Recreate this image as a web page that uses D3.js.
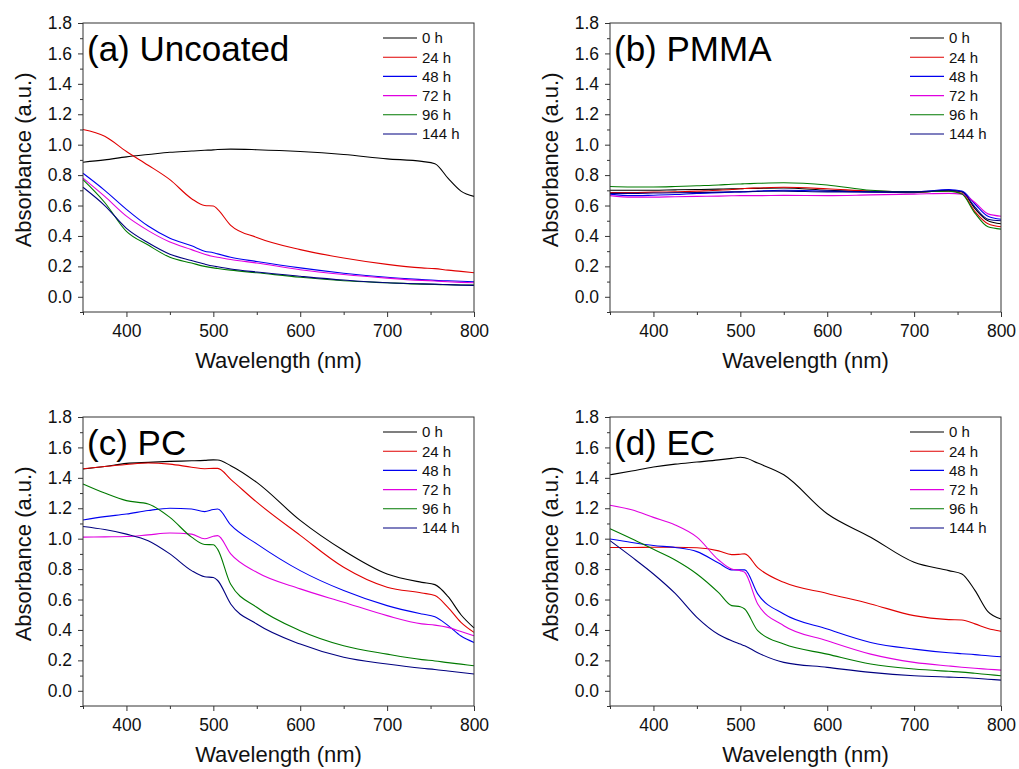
<!DOCTYPE html>
<html>
<head>
<meta charset="utf-8">
<script src="https://cdn.jsdelivr.net/npm/d3@7/dist/d3.min.js"></script>
<style>
  body { margin: 0; background: #fff; }
  svg { font-family: "Liberation Sans", Arial, sans-serif; }
</style>
</head>
<body>
<div id="chart"></div>
<script>
// shared wavelength grid (nm) that every series is read at
var wavelengths = [350, 375, 400, 425, 450, 475, 490, 500, 505, 520, 550, 600, 650, 700, 740, 755, 770, 785, 800];
var hours = ["0 h", "24 h", "48 h", "72 h", "96 h", "144 h"];
var xTicks = [400, 500, 600, 700, 800];
var yTicks = [0, 0.2, 0.4, 0.6, 0.8, 1.0, 1.2, 1.4, 1.6, 1.8];

// (a) Uncoated
var uncoated0 = [0.885, 0.90, 0.92, 0.935, 0.95, 0.958, 0.963, 0.966, 0.968, 0.971, 0.967, 0.955, 0.935, 0.907, 0.89, 0.875, 0.78, 0.695, 0.66];
var uncoated24 = [1.100, 1.055, 0.955, 0.865, 0.77, 0.645, 0.60, 0.597, 0.575, 0.47, 0.39, 0.31, 0.255, 0.213, 0.19, 0.185, 0.175, 0.167, 0.158];
var uncoated48 = [0.812, 0.70, 0.575, 0.465, 0.385, 0.335, 0.30, 0.29, 0.282, 0.26, 0.232, 0.19, 0.155, 0.128, 0.113, 0.108, 0.105, 0.102, 0.099];
var uncoated72 = [0.78, 0.66, 0.53, 0.435, 0.36, 0.31, 0.28, 0.265, 0.26, 0.245, 0.222, 0.178, 0.147, 0.123, 0.108, 0.104, 0.099, 0.095, 0.092];
var uncoated96 = [0.77, 0.62, 0.43, 0.34, 0.26, 0.222, 0.20, 0.19, 0.186, 0.175, 0.158, 0.128, 0.105, 0.092, 0.083, 0.081, 0.079, 0.078, 0.077];
var uncoated144 = [0.72, 0.60, 0.45, 0.355, 0.28, 0.238, 0.215, 0.202, 0.197, 0.183, 0.163, 0.135, 0.11, 0.092, 0.085, 0.083, 0.08, 0.077, 0.075];

// (b) PMMA
var pmma0 = [0.70, 0.70, 0.70, 0.703, 0.705, 0.708, 0.71, 0.71, 0.712, 0.713, 0.715, 0.70, 0.69, 0.685, 0.70, 0.69, 0.58, 0.50, 0.48];
var pmma24 = [0.685, 0.685, 0.688, 0.69, 0.695, 0.70, 0.705, 0.71, 0.712, 0.715, 0.72, 0.71, 0.695, 0.69, 0.695, 0.68, 0.56, 0.48, 0.46];
var pmma48 = [0.675, 0.665, 0.668, 0.672, 0.68, 0.685, 0.688, 0.69, 0.69, 0.695, 0.70, 0.695, 0.69, 0.69, 0.705, 0.695, 0.61, 0.53, 0.51];
var pmma72 = [0.665, 0.655, 0.655, 0.658, 0.66, 0.662, 0.664, 0.665, 0.665, 0.665, 0.667, 0.665, 0.67, 0.675, 0.68, 0.675, 0.62, 0.545, 0.53];
var pmma96 = [0.725, 0.722, 0.722, 0.725, 0.73, 0.735, 0.74, 0.742, 0.743, 0.746, 0.75, 0.735, 0.70, 0.69, 0.695, 0.675, 0.55, 0.46, 0.445];
var pmma144 = [0.68, 0.68, 0.682, 0.684, 0.685, 0.688, 0.69, 0.69, 0.691, 0.693, 0.695, 0.69, 0.69, 0.69, 0.70, 0.69, 0.59, 0.51, 0.50];

// (c) PC
var pc0 = [1.458, 1.475, 1.495, 1.502, 1.508, 1.512, 1.515, 1.518, 1.517, 1.48, 1.37, 1.12, 0.922, 0.768, 0.713, 0.698, 0.62, 0.50, 0.413];
var pc24 = [1.46, 1.475, 1.488, 1.498, 1.49, 1.47, 1.46, 1.462, 1.462, 1.39, 1.24, 1.022, 0.812, 0.681, 0.643, 0.626, 0.549, 0.45, 0.384];
var pc48 = [1.123, 1.145, 1.162, 1.185, 1.20, 1.195, 1.178, 1.192, 1.195, 1.09, 0.966, 0.79, 0.659, 0.56, 0.505, 0.487, 0.43, 0.36, 0.318];
var pc72 = [1.01, 1.012, 1.014, 1.025, 1.037, 1.03, 1.0, 1.016, 1.02, 0.90, 0.779, 0.67, 0.582, 0.494, 0.44, 0.432, 0.417, 0.39, 0.362];
var pc96 = [1.36, 1.30, 1.25, 1.228, 1.14, 1.01, 0.962, 0.96, 0.93, 0.70, 0.549, 0.395, 0.296, 0.241, 0.205, 0.196, 0.185, 0.175, 0.165];
var pc144 = [1.08, 1.06, 1.03, 0.987, 0.90, 0.79, 0.75, 0.745, 0.725, 0.571, 0.439, 0.307, 0.22, 0.176, 0.148, 0.14, 0.13, 0.12, 0.11];

// (d) EC
var ec0 = [1.42, 1.445, 1.471, 1.49, 1.504, 1.518, 1.528, 1.535, 1.532, 1.497, 1.42, 1.164, 1.01, 0.845, 0.79, 0.768, 0.66, 0.52, 0.472];
var ec24 = [0.942, 0.942, 0.944, 0.944, 0.94, 0.92, 0.895, 0.898, 0.90, 0.81, 0.713, 0.64, 0.571, 0.494, 0.468, 0.465, 0.44, 0.41, 0.391];
var ec48 = [0.998, 0.975, 0.955, 0.942, 0.915, 0.84, 0.795, 0.795, 0.795, 0.637, 0.505, 0.406, 0.318, 0.274, 0.25, 0.244, 0.238, 0.23, 0.224];
var ec72 = [1.22, 1.19, 1.14, 1.09, 1.01, 0.86, 0.80, 0.79, 0.779, 0.571, 0.428, 0.329, 0.241, 0.187, 0.163, 0.155, 0.148, 0.142, 0.136];
var ec96 = [1.066, 1.0, 0.93, 0.86, 0.768, 0.645, 0.56, 0.553, 0.538, 0.395, 0.307, 0.241, 0.176, 0.143, 0.128, 0.123, 0.115, 0.107, 0.099];
var ec144 = [0.987, 0.88, 0.768, 0.64, 0.483, 0.37, 0.329, 0.307, 0.296, 0.25, 0.187, 0.154, 0.121, 0.099, 0.09, 0.087, 0.082, 0.076, 0.07];

var colors = ["#000000", "#e00000", "#0000f0", "#e000e0", "#007a00", "#000080"];

var panels = [
  { label: "(a) Uncoated", left: 83, top: 23, series: [uncoated0, uncoated24, uncoated48, uncoated72, uncoated96, uncoated144] },
  { label: "(b) PMMA", left: 610, top: 23, series: [pmma0, pmma24, pmma48, pmma72, pmma96, pmma144] },
  { label: "(c) PC", left: 83, top: 417, series: [pc0, pc24, pc48, pc72, pc96, pc144] },
  { label: "(d) EC", left: 610, top: 417, series: [ec0, ec24, ec48, ec72, ec96, ec144] }
];

var width = 391;
var height = 289;

var svg = d3.select("#chart").append("svg")
  .attr("width", 1019)
  .attr("height", 769);

var x = d3.scaleLinear().domain([350, 800]).range([0, width]);
var y = d3.scaleLinear().domain([-0.1, 1.8]).range([height, 0]);

var line = d3.line()
  .x(function (d) { return x(d[0]); })
  .y(function (d) { return y(d[1]); })
  .curve(d3.curveMonotoneX);

panels.forEach(function (p) {
  var g = svg.append("g")
    .attr("transform", "translate(" + p.left + "," + p.top + ")");

  // curves
  p.series.forEach(function (vals, i) {
    g.append("path")
      .datum(wavelengths.map(function (w, k) { return [w, vals[k]]; }))
      .attr("fill", "none")
      .attr("stroke", colors[i])
      .attr("stroke-width", 1.1)
      .attr("d", line);
  });

  // y axis, major + minor ticks
  g.append("g")
    .call(d3.axisLeft(y).tickValues(yTicks).tickFormat(d3.format(".1f")).tickSizeOuter(0).tickSize(5).tickPadding(6));
  g.append("g")
    .call(d3.axisLeft(y).tickValues(d3.range(-0.1, 1.8, 0.2)).tickFormat("").tickSizeOuter(0).tickSize(3));

  // x axis, major + minor ticks
  g.append("g")
    .attr("transform", "translate(0," + height + ")")
    .call(d3.axisBottom(x).tickValues(xTicks).tickSizeOuter(0).tickSize(5).tickPadding(8));
  g.append("g")
    .attr("transform", "translate(0," + height + ")")
    .call(d3.axisBottom(x).tickValues([350, 450, 550, 650, 750]).tickFormat("").tickSizeOuter(0).tickSize(3));

  g.selectAll(".domain").remove();
  g.selectAll(".tick line").attr("stroke", "#333");
  g.selectAll(".tick text")
    .attr("fill", "#111")
    .style("font-size", "17.5px");

  // frame
  g.append("rect")
    .attr("width", width)
    .attr("height", height)
    .attr("fill", "none")
    .attr("stroke", "#333")
    .attr("stroke-width", 1);

  // axis titles
  g.append("text")
    .attr("x", width / 2)
    .attr("y", height + 56)
    .attr("text-anchor", "middle")
    .style("font-size", "22px")
    .attr("fill", "#111")
    .text("Wavelength (nm)");

  g.append("text")
    .attr("transform", "translate(-52," + y(0.9) + ") rotate(-90)")
    .attr("text-anchor", "middle")
    .style("font-size", "22px")
    .attr("fill", "#111")
    .text("Absorbance (a.u.)");

  // panel label
  g.append("text")
    .attr("x", 4)
    .attr("y", 38)
    .style("font-size", "35px")
    .attr("fill", "#000")
    .text(p.label);

  // legend
  var leg = g.append("g").attr("transform", "translate(" + (width - 91) + ",15)");
  hours.forEach(function (h, i) {
    leg.append("line")
      .attr("x1", 0).attr("x2", 34)
      .attr("y1", i * 19.2).attr("y2", i * 19.2)
      .attr("stroke", colors[i])
      .attr("stroke-width", 1.1);
    leg.append("text")
      .attr("x", 39)
      .attr("y", i * 19.2)
      .attr("dy", "0.36em")
      .style("font-size", "15px")
      .attr("fill", "#111")
      .text(h);
  });
});
</script>
</body>
</html>
